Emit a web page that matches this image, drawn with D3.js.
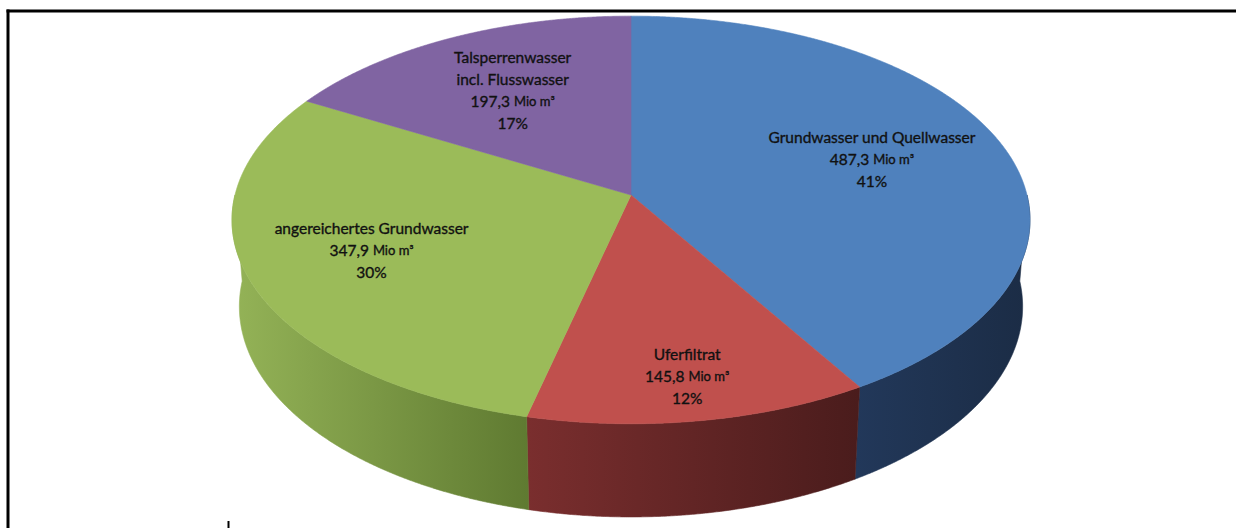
<!DOCTYPE html>
<html>
<head>
<meta charset="utf-8">
<script src="https://cdn.jsdelivr.net/npm/d3@7"></script>
<style>
  html, body { margin: 0; padding: 0; background: #fff; overflow: hidden; }
  svg { display: block; }
</style>
</head>
<body>
<svg id="chart" width="1236" height="528"></svg>
<script>
// ---- data ----
const categories = ["Grundwasser und Quellwasser", "Uferfiltrat", "angereichertes Grundwasser", "Talsperrenwasser incl. Flusswasser"];
const values = [487.3, 145.8, 347.9, 197.3];
const valueLabels = ["487,3", "145,8", "347,9", "197,3"];
const unitLabel = "Mio m³";
const percentLabels = ["41%", "12%", "30%", "17%"];
const nameLines = [["Grundwasser und Quellwasser"], ["Uferfiltrat"], ["angereichertes Grundwasser"], ["Talsperrenwasser", "incl. Flusswasser"]];

// ---- style / layout ----
const topColors = ["#4F81BD", "#C0504D", "#9BBB59", "#8064A2"];
const sideColors = [["#22385a", "#1b2c45"], ["#7a2e2e", "#4a1c1c"], ["#94b357", "#5f7a31"], ["#5e4a7a", "#4a3a60"]];
const labelR = [0.645, 0.83, 0.69, 0.635];

const svg = d3.select("#chart");
const W = 1236, H = 528;

// 3D projection parameters
const cx = 631, cy0 = 195, S = 396;
const alpha = Math.asin(0.507);
const D = 7.04;      // camera distance in radius units
const h = 0.257;     // thickness in radius units
const sa = Math.sin(alpha), ca = Math.cos(alpha);

function proj(theta, r, Y) {
  const X = r * Math.sin(theta), Z = -r * Math.cos(theta);
  const depth = D - Y * sa - Z * ca;
  return [cx + S * D * X / depth, cy0 + S * D * (Z * sa - Y * ca) / depth];
}

const pie = d3.pie().sort(null).value(d => d);
const arcs = pie(values);

const defs = svg.append("defs");
const step = Math.PI / 720;

function rimPts(a0, a1, Y) {
  const pts = [];
  const n = Math.max(2, Math.ceil((a1 - a0) / step));
  for (let i = 0; i <= n; i++) pts.push(proj(a0 + (a1 - a0) * i / n, 1, Y));
  return pts;
}

const line = d3.line();

// sides (front, visible half)
const gSide = svg.append("g");
arcs.forEach((a, i) => {
  const s = Math.max(a.startAngle, Math.PI / 2);
  const e = Math.min(a.endAngle, 3 * Math.PI / 2);
  if (s >= e) return;
  const topP = rimPts(s, e, 0);
  const botP = rimPts(s, e, -h).reverse();
  const pts = topP.concat(botP);
  const xs = pts.map(p => p[0]);
  const xmin = d3.min(xs), xmax = d3.max(xs);
  const gid = "side" + i;
  const g = defs.append("linearGradient").attr("id", gid)
    .attr("gradientUnits", "userSpaceOnUse")
    .attr("x1", xmin).attr("x2", xmax).attr("y1", 0).attr("y2", 0);
  g.append("stop").attr("offset", 0).attr("stop-color", sideColors[i][0]);
  g.append("stop").attr("offset", 1).attr("stop-color", sideColors[i][1]);
  gSide.append("path").attr("d", line(pts) + "Z")
    .attr("fill", `url(#${gid})`).attr("stroke", `url(#${gid})`).attr("stroke-width", 0.6);
});

// top faces
const gTop = svg.append("g");
arcs.forEach((a, i) => {
  const pts = [proj(0, 0, 0)].concat(rimPts(a.startAngle, a.endAngle, 0));
  gTop.append("path").attr("d", line(pts) + "Z")
    .attr("fill", topColors[i]).attr("stroke", topColors[i]).attr("stroke-width", 0.6);
});

// labels
const gLab = svg.append("g")
  .attr("font-family", "Lato, 'Open Sans', sans-serif")
  .attr("fill", "#111")
  .attr("stroke", "#111").attr("stroke-width", 0.35)
  .attr("text-anchor", "middle");
const lineH = 22;
arcs.forEach((a, i) => {
  const mid = (a.startAngle + a.endAngle) / 2;
  const [lx, ly] = proj(mid, labelR[i], 0);
  const lines = nameLines[i].length + 2;
  const y0 = ly - (lines - 1) / 2 * lineH;
  const t = gLab.append("text").attr("x", lx).attr("y", y0).attr("dominant-baseline", "middle");
  nameLines[i].forEach((ln, j) => {
    t.append("tspan").attr("x", lx).attr("y", y0 + j * lineH).attr("font-size", 15.5).text(ln);
  });
  const k = nameLines[i].length;
  const vt = gLab.append("text").attr("x", lx).attr("y", y0 + k * lineH).attr("dominant-baseline", "middle");
  vt.append("tspan").attr("font-size", 15.5).text(valueLabels[i] + " ");
  vt.append("tspan").attr("font-size", 13).text(unitLabel);
  gLab.append("text").attr("x", lx).attr("y", y0 + (k + 1) * lineH)
    .attr("dominant-baseline", "middle").attr("font-size", 15.5).text(percentLabels[i]);
});

// frame
svg.append("line").attr("x1", 6.5).attr("x2", W).attr("y1", 11).attr("y2", 11)
  .attr("stroke", "#000").attr("stroke-width", 3);
svg.append("line").attr("x1", 8).attr("x2", 8).attr("y1", 9.5).attr("y2", H)
  .attr("stroke", "#000").attr("stroke-width", 3);
svg.append("line").attr("x1", 228.5).attr("x2", 228.5).attr("y1", 521).attr("y2", H)
  .attr("stroke", "#000").attr("stroke-width", 2);
</script>
</body>
</html>
